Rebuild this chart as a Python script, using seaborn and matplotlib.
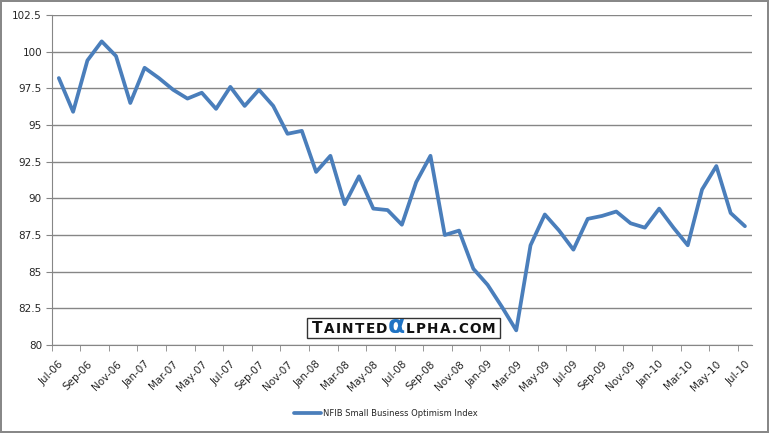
import pandas as pd
import numpy as np
import seaborn as sns
import matplotlib.pyplot as plt
from matplotlib.patches import Rectangle

# monthly NFIB index, Jul-06 .. Jul-10
months = ['Jul-06', 'Aug-06', 'Sep-06', 'Oct-06', 'Nov-06', 'Dec-06',
          'Jan-07', 'Feb-07', 'Mar-07', 'Apr-07', 'May-07', 'Jun-07',
          'Jul-07', 'Aug-07', 'Sep-07', 'Oct-07', 'Nov-07', 'Dec-07',
          'Jan-08', 'Feb-08', 'Mar-08', 'Apr-08', 'May-08', 'Jun-08',
          'Jul-08', 'Aug-08', 'Sep-08', 'Oct-08', 'Nov-08', 'Dec-08',
          'Jan-09', 'Feb-09', 'Mar-09', 'Apr-09', 'May-09', 'Jun-09',
          'Jul-09', 'Aug-09', 'Sep-09', 'Oct-09', 'Nov-09', 'Dec-09',
          'Jan-10', 'Feb-10', 'Mar-10', 'Apr-10', 'May-10', 'Jun-10',
          'Jul-10']
index_values = [98.2, 95.9, 99.4, 100.7, 99.7, 96.5,
                98.9, 98.2, 97.4, 96.8, 97.2, 96.1,
                97.6, 96.3, 97.4, 96.3, 94.4, 94.6,
                91.8, 92.9, 89.6, 91.5, 89.3, 89.2,
                88.2, 91.1, 92.9, 87.5, 87.8, 85.2,
                84.1, 82.6, 81.0, 86.8, 88.9, 87.8,
                86.5, 88.6, 88.8, 89.1, 88.3, 88.0,
                89.3, 88.0, 86.8, 90.6, 92.2, 89.0,
                88.1]
series_name = 'NFIB Small Business Optimism Index'

df = pd.DataFrame({'month': months, 'value': index_values})

sns.set_style('white')
plt.rcParams['font.family'] = ['DejaVu Sans']

W, H = 769, 433
fig, ax = plt.subplots(figsize=(W / 100, H / 100), dpi=100)
fig.subplots_adjust(left=0.0672, right=0.978, top=0.9654, bottom=0.2032)

sns.lineplot(data=df, x='month', y='value', ax=ax, color='#4A7EBB',
             linewidth=2.7, label=series_name, sort=False)

# axes styling (Excel look)
yt = np.arange(80, 102.6, 2.5)
ax.set_ylim(80, 102.5)
ax.set_yticks(yt)
ax.set_yticklabels([f'{v:g}' for v in yt], fontsize=7.5)
ax.yaxis.grid(True, color='#868686', linewidth=1)
ax.set_axisbelow(True)
ax.tick_params(axis='y', length=4, color='#868686', direction='out', left=True, pad=3)

n = len(months)
ax.set_xlim(-0.5, n - 0.5)
ax.set_xticks(np.arange(0, n, 2))
ax.set_xticklabels(months[::2], rotation=45, ha='right', rotation_mode='anchor', fontsize=7.5)
ax.set_xticks(np.arange(-0.5, n, 2), minor=True)
ax.tick_params(axis='x', which='major', length=0, pad=10)
ax.tick_params(axis='x', which='minor', length=4, color='#868686', direction='out', bottom=True)

for side in ['top', 'right']:
    ax.spines[side].set_visible(False)
ax.spines['left'].set_color('#868686')
ax.spines['bottom'].set_color('#868686')
ax.set_xlabel('')
ax.set_ylabel('')

ax.get_legend().remove()
fig.legend(loc='center', bbox_to_anchor=(0.502, 0.046), frameon=False,
           fontsize=6, handlelength=3.2, handletextpad=0.3)

# watermark box
fig.patches.append(Rectangle((307 / W, 1 - 338 / H), 193 / W, 20 / H,
                             transform=fig.transFigure, facecolor='white',
                             edgecolor='#333333', linewidth=1))

renderer = fig.canvas.get_renderer()


def spaced(text, x, y, sizes, gap, **kw):
    # draw text letter by letter, advancing by each glyph's width plus a gap
    for ch, fs in zip(text, sizes):
        t = fig.text(x / W, 1 - y / H, ch, fontsize=fs, ha='left', va='baseline', **kw)
        x += t.get_window_extent(renderer).width + gap
    return x


end = spaced('TAINTED', 312, 333, [11] + [9.8] * 6, 1.3, fontweight='bold', color='#111111')
a = fig.text((end - 1) / W, 1 - 333 / H, 'α', fontsize=18, ha='left', va='baseline',
             color='#1F73C4', fontweight='bold')
end = end - 1 + a.get_window_extent(renderer).width
spaced('LPHA.COM', end + 1, 333, [9.8] * 8, 1.3, fontweight='bold', color='#111111')

fig.patch.set_edgecolor('#888888')
fig.patch.set_linewidth(1.5)
plt.savefig('out.png', dpi=100, edgecolor=fig.get_edgecolor())
